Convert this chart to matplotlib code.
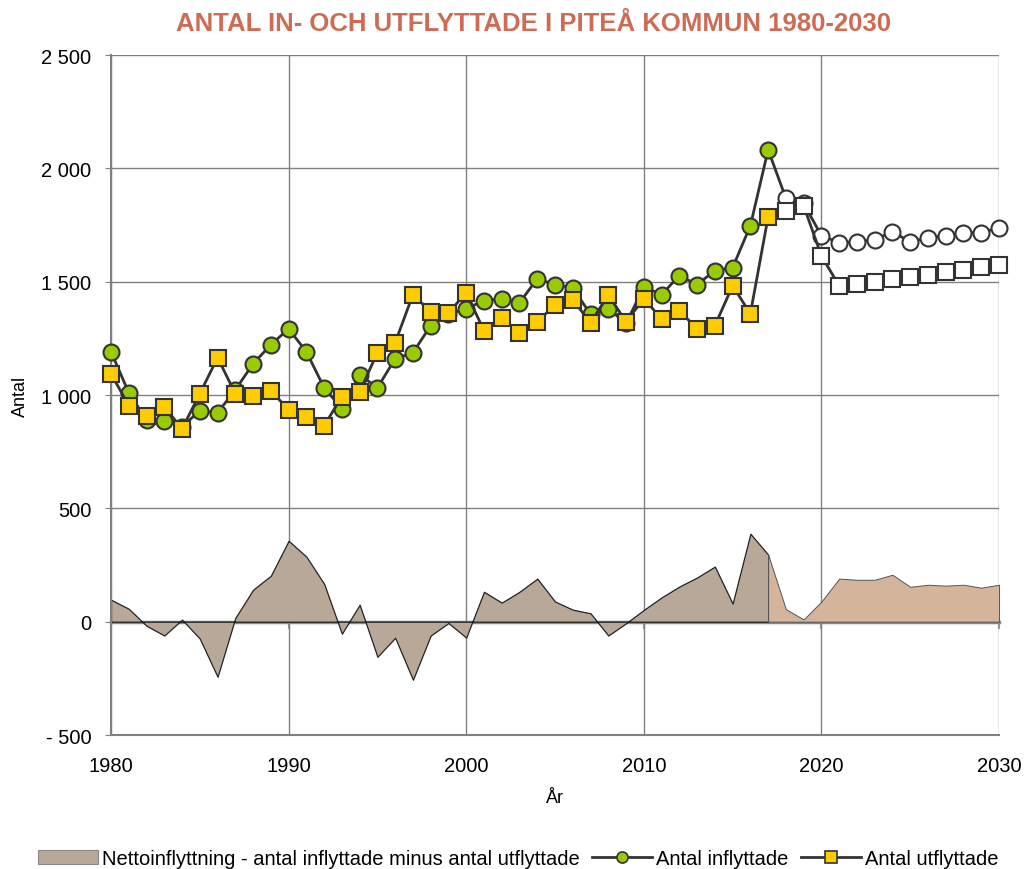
import matplotlib
matplotlib.use("Agg")
import matplotlib.pyplot as plt
from matplotlib.lines import Line2D
from matplotlib.patches import Patch
import numpy as np

years = list(range(1980, 2031))
inflyttade = [1191, 1010, 891, 887, 860, 931, 922, 1023, 1138, 1222,
              1292, 1191, 1032, 940, 1090, 1032, 1160, 1187, 1306, 1357,
              1381, 1416, 1425, 1407, 1513, 1487, 1473, 1356, 1381, 1316,
              1477, 1443, 1527, 1487, 1549, 1562, 1747, 2082, 1868, 1845,
              1703, 1672, 1676, 1685, 1720, 1676, 1694, 1703, 1716, 1716,
              1738]
utflyttade = [1094, 953, 909, 948, 851, 1006, 1165, 1006, 997, 1019,
              935, 904, 865, 993, 1015, 1187, 1231, 1443, 1367, 1363,
              1451, 1284, 1341, 1275, 1323, 1398, 1420, 1319, 1442, 1323,
              1425, 1336, 1372, 1292, 1306, 1482, 1359, 1786, 1813, 1835,
              1614, 1482, 1491, 1500, 1513, 1522, 1531, 1544, 1553, 1566,
              1575]
last_actual_year = 2017
yticks = [-500, 0, 500, 1000, 1500, 2000, 2500]
ytick_labels = ["- 500", "0", "500", "1 000", "1 500", "2 000", "2 500"]
xticks = [1980, 1990, 2000, 2010, 2020, 2030]

title = "ANTAL IN- OCH UTFLYTTADE I PITEÅ KOMMUN 1980-2030"
label_net = "Nettoinflyttning - antal inflyttade minus antal utflyttade"
label_in = "Antal inflyttade"
label_out = "Antal utflyttade"

plt.rcParams['font.family'] = ['Liberation Sans', 'DejaVu Sans']

yrs = np.array(years)
inf = np.array(inflyttade, dtype=float)
utf = np.array(utflyttade, dtype=float)
net = inf - utf
hist = yrs <= last_actual_year
fc = yrs >= last_actual_year
fut = yrs > last_actual_year

fig = plt.figure(figsize=(10.26, 8.7), dpi=100)
ax = fig.add_axes([0.1082, 0.154, 0.9737 - 0.1082, 0.9356 - 0.154])

grid_c = "#808080"
ax.set_xlim(1980, 2030)
ax.set_ylim(-500, 2500)
ax.set_yticks(yticks)
ax.set_yticklabels(ytick_labels)
ax.set_xticks(xticks)
ax.grid(True, color=grid_c, linewidth=1.0)
ax.set_axisbelow(True)
for s in ["top", "right"]:
    ax.spines[s].set_visible(False)
ax.spines["left"].set_color(grid_c)
ax.spines["left"].set_linewidth(1.5)
ax.spines["bottom"].set_color(grid_c)
ax.spines["bottom"].set_linewidth(1.5)
ax.tick_params(axis="y", direction="out", length=4.5, color=grid_c, labelsize=14.5, pad=9.5)
ax.tick_params(axis="x", length=0, labelsize=14.5, pad=15)

# net area
ax.fill_between(yrs[hist], net[hist], 0, facecolor="#b8a898", edgecolor="#222222",
                linewidth=0.9, zorder=2)
ax.fill_between(yrs[fc], net[fc], 0, facecolor="#d4b59c", edgecolor="#555555",
                linewidth=0.7, zorder=2)

# zero axis with ticks
sec = ax.secondary_xaxis(500 / 3000)
sec.set_xticks(xticks)
sec.set_xticklabels([])
sec.tick_params(direction="out", length=5, color="#999999", width=1.5)
sec.spines["bottom"].set_color("#8c8c8c")
sec.spines["bottom"].set_linewidth(2.5)
sec.spines["bottom"].set_zorder(3)

ms = 11.5
edge = "#333333"
ax.plot(yrs, inf, color=edge, linewidth=2, zorder=4, clip_on=False)
ax.plot(yrs[hist], inf[hist], linestyle="none", marker="o", markersize=ms,
        markerfacecolor="#99cc00", markeredgecolor=edge, markeredgewidth=1.5,
        zorder=5, clip_on=False)
ax.plot(yrs[fut], inf[fut], linestyle="none", marker="o", markersize=ms,
        markerfacecolor="white", markeredgecolor=edge, markeredgewidth=1.5,
        zorder=5, clip_on=False)
ax.plot(yrs, utf, color=edge, linewidth=2, zorder=6, clip_on=False)
ax.plot(yrs[hist], utf[hist], linestyle="none", marker="s", markersize=ms - 0.5,
        markerfacecolor="#ffcc00", markeredgecolor=edge, markeredgewidth=1.5,
        zorder=7, clip_on=False)
ax.plot(yrs[fut], utf[fut], linestyle="none", marker="s", markersize=ms - 0.5,
        markerfacecolor="white", markeredgecolor=edge, markeredgewidth=1.5,
        zorder=7, clip_on=False)

ax.set_ylabel("Antal", fontsize=13, labelpad=9)
ax.set_xlabel("År", fontsize=13, labelpad=10)

fig.text(0.52, 0.972, title, ha="center", va="center", fontsize=18.5,
         fontweight="bold", color="#cd6b55")

handles = [
    Patch(facecolor="#b8a898", edgecolor="#888888", linewidth=0.8),
    Line2D([], [], color=edge, linewidth=2, marker="o", markersize=8,
           markerfacecolor="#99cc00", markeredgecolor=edge, markeredgewidth=1.2),
    Line2D([], [], color=edge, linewidth=2, marker="s", markersize=8,
           markerfacecolor="#ffcc00", markeredgecolor=edge, markeredgewidth=1.2),
]
fig.legend(handles, [label_net, label_in, label_out], loc="center",
           bbox_to_anchor=(0.505, 0.012), ncol=3, frameon=False,
           handlelength=3.0, handletextpad=0.2, columnspacing=0.6,
           prop={'family': ['Liberation Sans', 'DejaVu Sans'], 'size': 14.5})

fig.savefig("out.png", dpi=100)
